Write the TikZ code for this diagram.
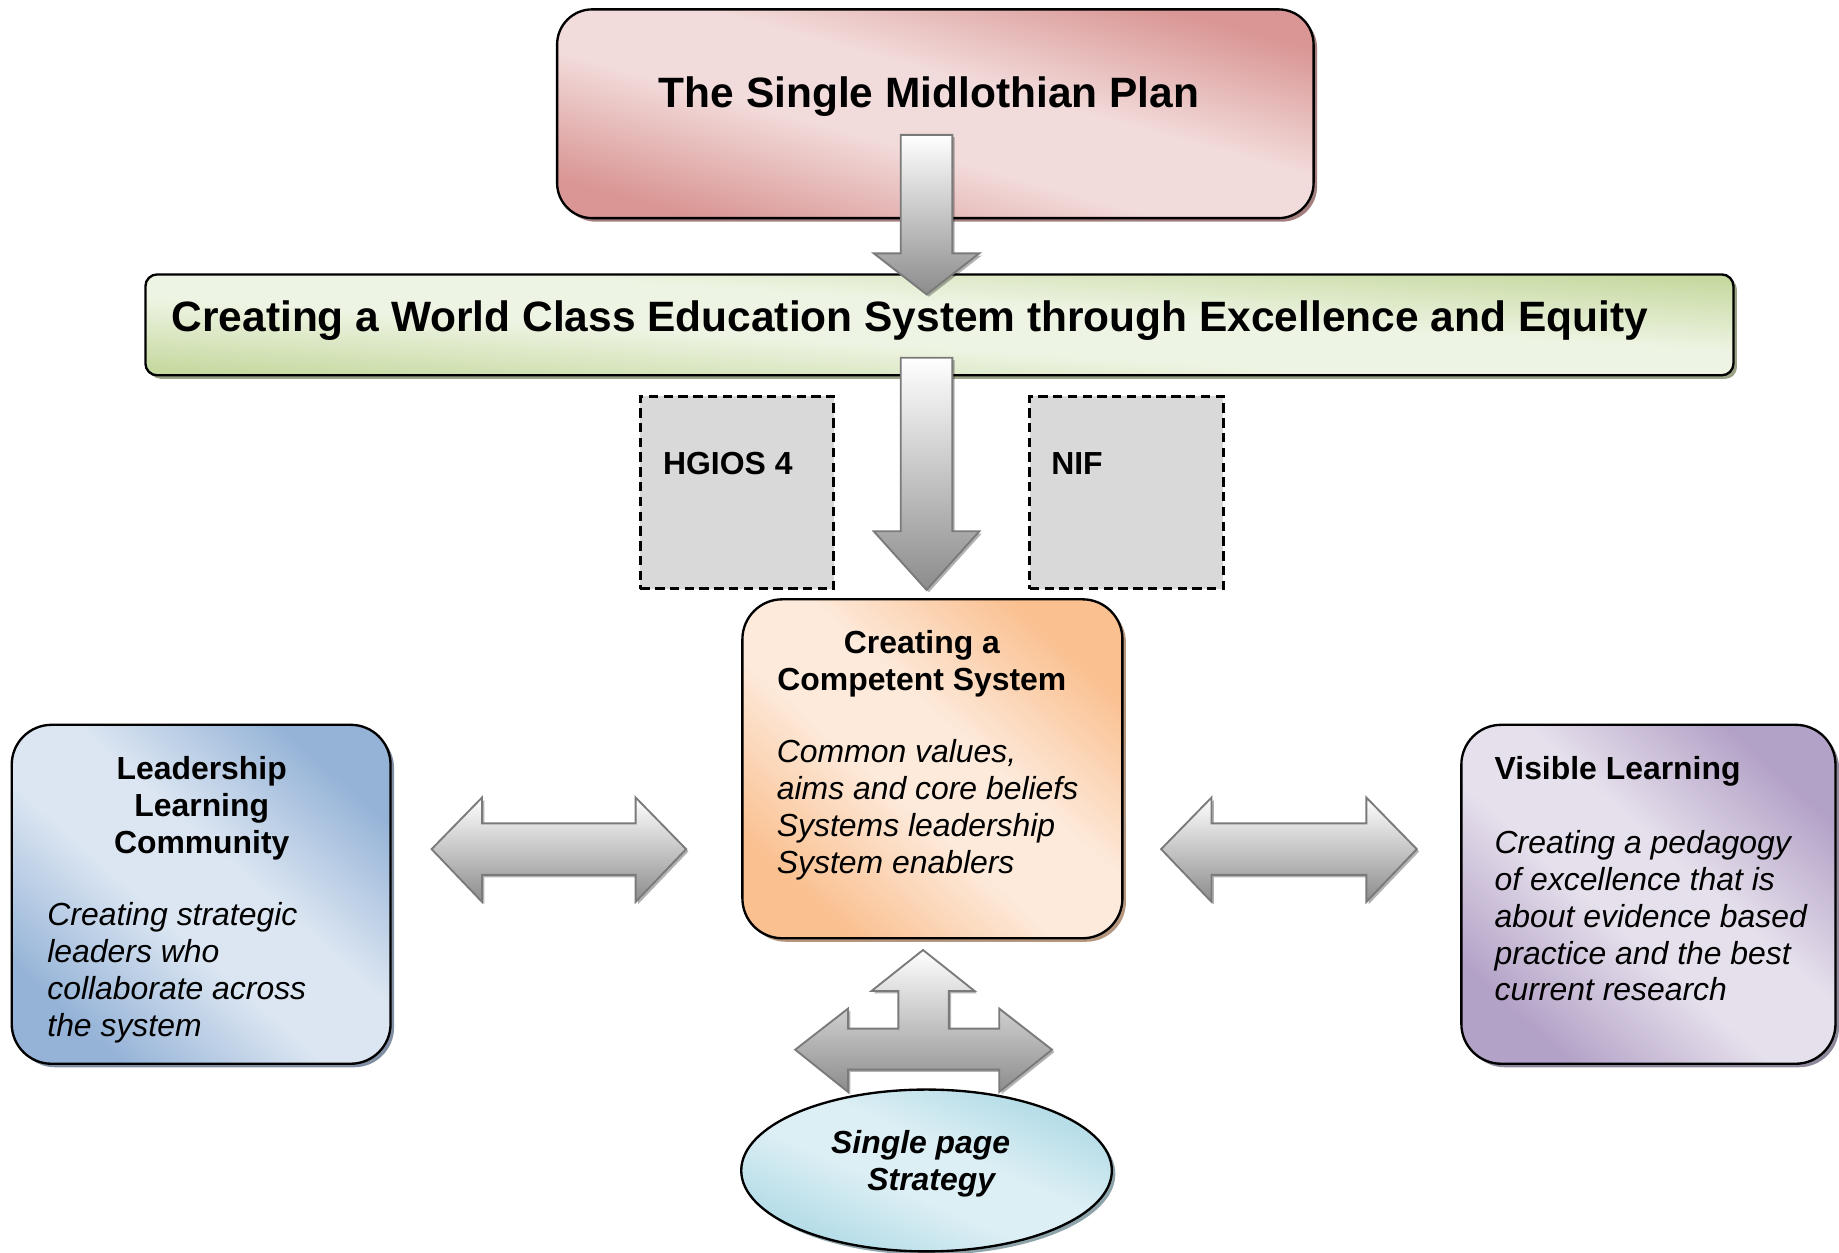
\documentclass[tikz,border=0pt]{standalone}
\usepackage{fontspec}
\setmainfont{Liberation Sans}
\usetikzlibrary{shapes.geometric,shadows}

\definecolor{pinkD}{HTML}{D99694}
\definecolor{pinkL}{HTML}{F2DCDB}
\definecolor{greenD}{HTML}{C6D9A0}
\definecolor{greenL}{HTML}{EEF4E3}
\definecolor{orangeD}{HTML}{FAC090}
\definecolor{orangeL}{HTML}{FDEADB}
\definecolor{blueD}{HTML}{95B3D7}
\definecolor{blueL}{HTML}{DCE6F2}
\definecolor{purpD}{HTML}{B3A2C7}
\definecolor{purpL}{HTML}{E6E0EC}
\definecolor{aquaD}{HTML}{B0DAE6}
\definecolor{aquaL}{HTML}{DCEFF4}
\definecolor{arrowDark}{HTML}{8C8C8C}
\definecolor{arrowEdge}{HTML}{7A7A7A}
\definecolor{dashfill}{HTML}{D9D9D9}

\colorlet{dk}{gray}\colorlet{lt}{white}
\pgfdeclareverticalshading[dk,lt]{diagsh}{100bp}{color(0bp)=(dk); color(25bp)=(dk); color(44bp)=(lt); color(56bp)=(lt); color(75bp)=(dk); color(100bp)=(dk)}

\tikzset{
  shcol/.code 2 args={\colorlet{dk}{#1}\colorlet{lt}{#2}},
  box/.style 2 args={draw=black, line width=1pt, shcol={#1}{#2}, shade, shading=diagsh, shading angle=-45,
    drop shadow={shadow xshift=1.5pt, shadow yshift=-1.5pt, fill=#1!65!black, opacity=.8}},
  dbox/.style={draw=black, line width=1.2pt, dash pattern=on 4pt off 2.3pt, fill=dashfill,
    minimum width=82.5pt, minimum height=82pt},
  blockarrow/.style={draw=arrowEdge, line width=0.8pt, line join=miter, top color=white, bottom color=arrowDark,
    drop shadow={shadow xshift=1pt, shadow yshift=-1pt, fill=black, opacity=.3}},
  big/.style={inner sep=0pt, font=\fontsize{18.1}{21}\selectfont\bfseries},
  sb/.style={inner sep=0pt, font=\fontsize{13.6}{15.75}\selectfont\bfseries},
  si/.style={inner sep=0pt, font=\fontsize{13.6}{15.75}\selectfont\itshape},
  sbi/.style={inner sep=0pt, font=\fontsize{13.6}{15.75}\selectfont\bfseries\itshape},
}

\begin{document}
\begin{tikzpicture}[x=0.5pt,y=-0.5pt]
\useasboundingbox (0,0) rectangle (1568,1068);
\fill[white] (0,0) rectangle (1568,1068);

% boxes
\node[box={pinkD}{pinkL}, shading angle=-15.4, rounded corners=15pt, minimum width=322.5pt, minimum height=89pt] (plan) at (797.5,97) {};
\node[box={greenD}{greenL}, shading angle=-3.6, rounded corners=5pt, minimum width=677pt, minimum height=43pt] (world) at (801,277) {};
\node[dbox] (hgios) at (628.5,420) {};
\node[dbox] (nif) at (960.5,420) {};
\node[box={orangeD}{orangeL}, shading angle=-41.7, rounded corners=17pt, minimum width=162pt, minimum height=144.5pt] (comp) at (795,655.5) {};
\node[box={blueD}{blueL}, shading angle=-41.8, rounded corners=17pt, minimum width=161.5pt, minimum height=144.5pt] (llc) at (171.5,762.5) {};
\node[box={purpD}{purpL}, shading angle=-42.2, rounded corners=17pt, minimum width=159.5pt, minimum height=144.5pt] (vl) at (1405.5,762.5) {};

% texts
\node[big, anchor=base] (planT) at (792,92) {The Single Midlothian Plan};
\node[big, anchor=base west] (worldT) at (146,283) {Creating a World Class Education System through Excellence and Equity};
\node[sb, anchor=base west] (hgiosT) at (565,405) {HGIOS 4};
\node[sb, anchor=base west] (nifT) at (896,405) {NIF};

\node[sb, align=center, anchor=north] (compT) at (786,535) {\strut Creating a\\Competent System};
\node[si, align=left, anchor=north west] (compB) at (662,628) {\strut Common values,\\aims and core beliefs\\Systems leadership\\System enablers};

\node[sb, align=center, anchor=north] (llcT) at (172,642) {\strut Leadership\\Learning\\Community};
\node[si, align=left, anchor=north west] (llcB) at (40,767) {\strut Creating strategic\\leaders who\\collaborate across\\the system};

\node[sb, align=left, anchor=north west] (vlT) at (1274,642) {\strut Visible Learning};
\node[si, align=left, anchor=north west] (vlB) at (1274,705) {\strut Creating a pedagogy\\of excellence that is\\about evidence based\\practice and the best\\current research};

% block arrows
\shade[blockarrow] (768,115) -- (812,115) -- (812,216) -- (835,216) -- (790,251) -- (745,216) -- (768,216) -- cycle;
\shade[blockarrow] (768,305) -- (812,305) -- (812,453) -- (835,453) -- (790,503) -- (745,453) -- (768,453) -- cycle;

\shade[blockarrow] (368,724) -- (411,680) -- (411,702) -- (542,702) -- (542,680) -- (585,724)
   -- (542,769) -- (542,746) -- (411,746) -- (411,769) -- cycle;
\shade[blockarrow] (990,724) -- (1033,680) -- (1033,702) -- (1165,702) -- (1165,680) -- (1208,724)
   -- (1165,769) -- (1165,746) -- (1033,746) -- (1033,769) -- cycle;

\shade[blockarrow] (787,810) -- (831,845) -- (809,845) -- (809,877) -- (852,877) -- (852,860) -- (897,895)
   -- (852,931) -- (852,912) -- (723,912) -- (723,931) -- (678,895) -- (723,860) -- (723,877)
   -- (766,877) -- (766,845) -- (743,845) -- cycle;

% ellipse
\node[box={aquaD}{aquaL}, shading angle=-23.6, ellipse, minimum width=158pt, minimum height=69pt] (sps) at (790,998) {};
\node[sbi, align=center, anchor=north] (spsT) at (785,961) {\strut Single page\\\hspace{9pt}Strategy};
\end{tikzpicture}
\end{document}
